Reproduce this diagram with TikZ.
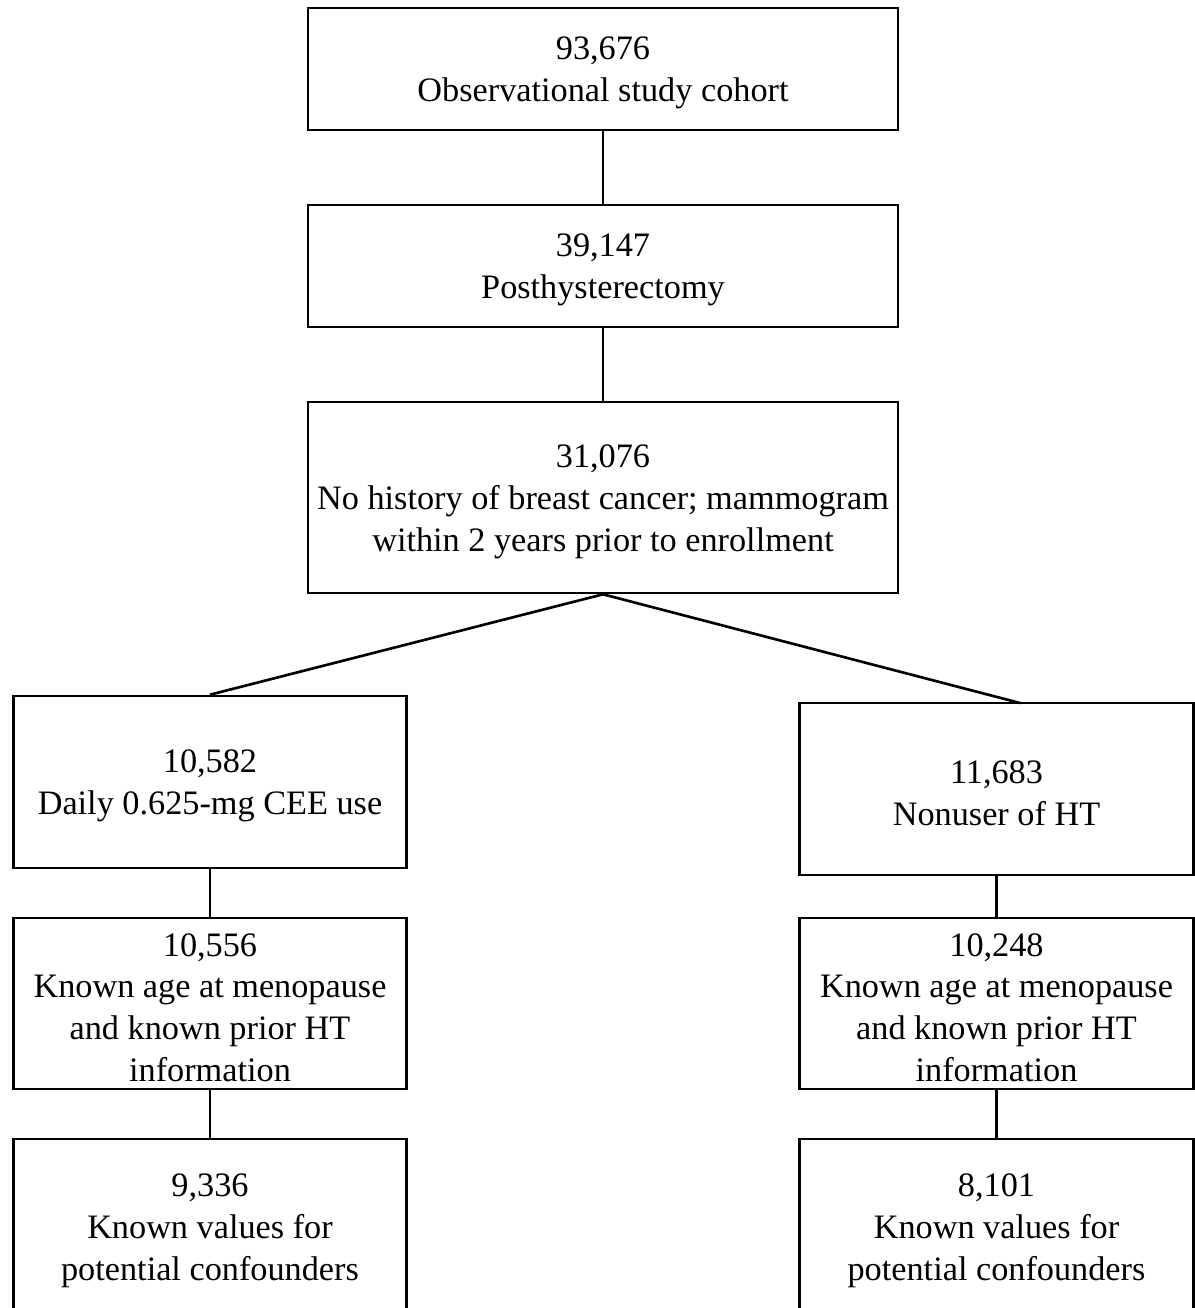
\documentclass[tikz,border=0pt]{standalone}
\usepackage{fontspec}
\setmainfont{Liberation Serif}
\begin{document}
\begin{tikzpicture}[x=0.02cm,y=-0.02cm,
  box/.style={draw,line width=1.5pt,inner sep=0pt},
  txt/.style={inner sep=0pt,align=center,yshift=-0.08cm,
    font=\fontsize{19.5}{23.8}\selectfont},
  wide/.style={box,minimum width=11.8cm},
  narrow/.style={box,minimum width=7.87cm},
  link/.style={line width=1.5pt}]
\useasboundingbox (0,0) rectangle (1195,1308);
\clip (0,0) rectangle (1195,1308);
\node[wide,minimum height=2.44cm,label={[txt]center:{93,676\\Observational study cohort}}] (a) at (603,69) {};
\node[wide,minimum height=2.44cm,label={[txt]center:{39,147\\Posthysterectomy}}] (b) at (603,266) {};
\node[wide,minimum height=3.82cm,label={[txt]center:{31,076\\No history of breast cancer; mammogram\\within 2 years prior to enrollment}}] (c) at (603,497.5) {};
\node[narrow,minimum height=3.44cm,label={[txt]center:{10,582\\Daily 0.625-mg CEE use}}] (d) at (210,782) {};
\node[narrow,minimum height=3.44cm,label={[txt]center:{11,683\\Nonuser of HT}}] (e) at (996.5,789) {};
\node[narrow,minimum height=3.42cm,label={[txt]center:{10,556\\Known age at menopause\\and known prior HT\\information}}] (f) at (210,1003.5) {};
\node[narrow,minimum height=3.42cm,label={[txt]center:{10,248\\Known age at menopause\\and known prior HT\\information}}] (g) at (996.5,1003.5) {};
\node[narrow,minimum height=3.52cm,label={[txt]center:{9,336\\Known values for\\potential confounders}}] (h) at (210,1227) {};
\node[narrow,minimum height=3.52cm,label={[txt]center:{8,101\\Known values for\\potential confounders}}] (i) at (996.5,1227) {};
\coordinate (er) at (1020,703);
\draw[link] (a.south) -- (b.north);
\draw[link] (b.south) -- (c.north);
\draw[link] (c.south) -- (d.north);
\draw[link] (c.south) -- (er);
\draw[link] (d.south) -- (f.north);
\draw[link] (f.south) -- (h.north);
\draw[link] (e.south) -- (g.north);
\draw[link] (g.south) -- (i.north);
\end{tikzpicture}
\end{document}
